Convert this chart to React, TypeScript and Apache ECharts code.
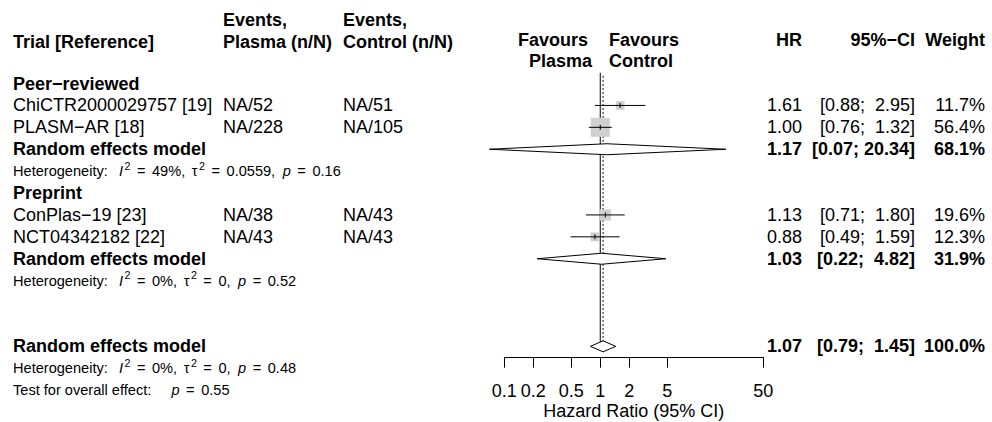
import React, { useEffect, useRef } from "react";
import * as echarts from "echarts";

// ---------- data ----------
const studyNames = ["ChiCTR2000029757 [19]", "PLASM−AR [18]", "ConPlas−19 [23]", "NCT04342182 [22]"];
const plasmaEvents = ["NA/52", "NA/228", "NA/38", "NA/43"];
const controlEvents = ["NA/51", "NA/105", "NA/43", "NA/43"];
const studyHR = [1.61, 1.0, 1.13, 0.88];
const studyLower = [0.88, 0.76, 0.71, 0.49];
const studyUpper = [2.95, 1.32, 1.8, 1.59];
const studyWeight = [11.7, 56.4, 19.6, 12.3];
const studyRows = [1, 2, 6, 7];

const groupNames = ["Peer−reviewed", "Preprint"];
const groupRows = [0, 5];

const pooledLabels = ["Random effects model", "Random effects model", "Random effects model"];
const pooledHR = [1.17, 1.03, 1.07];
const pooledLower = [0.07, 0.22, 0.79];
const pooledUpper = [20.34, 4.82, 1.45];
const pooledWeight = [68.1, 31.9, 100.0];
const pooledRows = [3, 8, 12];

const hetI2 = ["49%", "0%", "0%"];
const hetTau2 = ["0.0559", "0", "0"];
const hetP = ["0.16", "0.52", "0.48"];
const hetRows = [4, 9, 13];
const overallEffectP = "0.55";
const overallEffectRow = 14;

const tickValues = [0.1, 0.2, 0.5, 1, 2, 5, 50];
const axisMin = 0.1;
const axisMax = 50;
const nullValue = 1;
const overallValue = 1.07;

// ---------- styling ----------
const FAM = '"Liberation Sans", Arial, Helvetica, sans-serif';
const font = (size: number, bold = false, italic = false) =>
  `${italic ? "italic " : ""}${bold ? "bold " : ""}${size}px ${FAM}`;
const MAIN = 18;
const SMALL = 15; // rendered through a scale to 14.6px
const SMALL_SCALE = 14.6 / 15;
const SUP = 11;
const SUP_RAISE = 5.6;
const GAP_LABEL = 11;
const GAP_SUP = 1.5;
const GAP_EQ = 6.5;
const GAP_SEP = 6.5;
const GAP_P = 7.5;
const GAP_TEST = 20;
const X_NAME = 13;
const X_PLASMA = 223;
const X_CONTROL = 343;
const X_HR = 802;
const X_CI = 915;
const X_W = 985;
const SQUARE_K = 2.53;
const DIAMOND_HALF = 5.5;

const L = Math.log10;
const NB = "\u00a0";

function fmtCI(lo: number, hi: number) {
  return "[" + lo.toFixed(2) + "; " + (hi < 10 ? NB : "") + hi.toFixed(2) + "]";
}

function txt(x: number, y: number, text: string, f: string, align: string = "left") {
  return {
    type: "text",
    x,
    y,
    style: {
      legacy: false,
      text,
      font: f,
      fill: "#000",
      align,
      verticalAlign: "middle",
    },
  };
}

let measureCtx: CanvasRenderingContext2D | null = null;
function measure(text: string, f: string) {
  if (!measureCtx) measureCtx = document.createElement("canvas").getContext("2d");
  measureCtx!.font = f;
  return measureCtx!.measureText(text).width;
}

type Piece = { t: string; kind: "n" | "i" | "s"; gap?: number };
function pieces(x0: number, y: number, parts: Piece[]) {
  let x = 0;
  const children: any[] = [];
  for (const p of parts) {
    x += (p.gap || 0) / SMALL_SCALE;
    const f = p.kind === "s" ? font(SUP) : font(SMALL, false, p.kind === "i");
    children.push(txt(x, p.kind === "s" ? -SUP_RAISE / SMALL_SCALE : 0, p.t, f));
    x += measure(p.t, f);
  }
  return { type: "group", x: x0, y, scaleX: SMALL_SCALE, scaleY: SMALL_SCALE, children };
}

export default function App() {
  const ref = useRef<HTMLDivElement>(null);
  useEffect(() => {
    const chart = echarts.init(ref.current!, null, { renderer: "svg" });

    const labelFor = (v: number) => {
      let best = tickValues[0];
      for (const t of tickValues) if (Math.abs(L(t) - v) < Math.abs(L(best) - v)) best = t;
      return String(best);
    };

    const headers: any[] = [
      txt(X_NAME, 42, "Trial [Reference]", font(MAIN, true)),
      txt(X_PLASMA, 20, "Events,", font(MAIN, true)),
      txt(X_PLASMA, 42, "Plasma (n/N)", font(MAIN, true)),
      txt(X_CONTROL, 20, "Events,", font(MAIN, true)),
      txt(X_CONTROL, 42, "Control (n/N)", font(MAIN, true)),
      txt(518, 40, "Favours", font(MAIN, true)),
      txt(529, 61, "Plasma", font(MAIN, true)),
      txt(609, 40, "Favours", font(MAIN, true)),
      txt(609, 61, "Control", font(MAIN, true)),
      txt(X_HR, 40, "HR", font(MAIN, true), "right"),
      txt(X_CI, 40, "95%−CI", font(MAIN, true), "right"),
      txt(X_W, 40, "Weight", font(MAIN, true), "right"),
    ];

    const option: any = {
      animation: false,
      backgroundColor: "#fff",
      grid: {
        left: 504.3,
        right: 228.7,
        top: 70.4,
        bottom: 64.3,
        containLabel: false,
        outerBoundsMode: "none",
      },
      xAxis: {
        type: "value",
        position: "bottom",
        min: L(axisMin),
        max: L(axisMax),
        name: "Hazard Ratio (95% CI)",
        nameLocation: "middle",
        nameGap: 44,
        nameMoveOverlap: false,
        nameTextStyle: { fontSize: MAIN, fontFamily: FAM, color: "#000", lineHeight: 18 },
        axisLine: { show: true, onZero: false, lineStyle: { color: "#000", width: 1 } },
        axisTick: {
          show: true,
          length: 10,
          inside: false,
          customValues: tickValues.map((t) => L(t)),
          lineStyle: { color: "#000", width: 1 },
        },
        axisLabel: {
          show: true,
          margin: 24,
          customValues: tickValues.map((t) => L(t)),
          formatter: (v: number) => labelFor(v),
          fontSize: MAIN,
          fontFamily: FAM,
          color: "#000",
        },
        splitLine: { show: false },
      },
      yAxis: {
        type: "value",
        inverse: true,
        min: -0.6,
        max: 12.519,
        show: false,
      },
      graphic: headers,
      series: [
        {
          // reference lines
          type: "custom",
          name: "reference",
          coordinateSystem: "cartesian2d",
          clip: false,
          data: [
            [L(nullValue), -0.49, pooledRows[2], 0],
            [L(overallValue), -0.35, pooledRows[2], 1],
          ],
          encode: { x: 0, y: 1 },
          renderItem: (params: any, api: any) => {
            const top = api.coord([api.value(0), api.value(1)]);
            const bot = api.coord([api.value(0), api.value(2)]);
            const dotted = api.value(3) === 1;
            return {
              type: "line",
              shape: { x1: top[0], y1: top[1], x2: bot[0], y2: bot[1] },
              style: { stroke: "#000", lineWidth: 1, lineDash: dotted ? [2, 2] : null },
            };
          },
        },
        {
          // individual studies
          type: "custom",
          name: "studies",
          coordinateSystem: "cartesian2d",
          clip: false,
          data: studyHR.map((h, i) => [L(h), studyRows[i], L(studyLower[i]), L(studyUpper[i]), studyWeight[i], i]),
          encode: { x: 0, y: 1 },
          renderItem: (params: any, api: any) => {
            const i = api.value(5);
            const c = api.coord([api.value(0), api.value(1)]);
            const lo = api.coord([api.value(2), api.value(1)])[0];
            const hi = api.coord([api.value(3), api.value(1)])[0];
            const side = SQUARE_K * Math.sqrt(api.value(4));
            const y = c[1];
            return {
              type: "group",
              children: [
                {
                  type: "rect",
                  shape: { x: c[0] - side / 2, y: y - side / 2, width: side, height: side },
                  style: { fill: "#d0d0d0" },
                },
                {
                  type: "line",
                  shape: { x1: lo, y1: y, x2: hi, y2: y },
                  style: { stroke: "#000", lineWidth: 1 },
                },
                {
                  type: "line",
                  shape: { x1: c[0], y1: y - 2.5, x2: c[0], y2: y + 2.5 },
                  style: { stroke: "#000", lineWidth: 1 },
                },
                txt(X_NAME, y, studyNames[i], font(MAIN)),
                txt(X_PLASMA, y, plasmaEvents[i], font(MAIN)),
                txt(X_CONTROL, y, controlEvents[i], font(MAIN)),
                txt(X_HR, y, studyHR[i].toFixed(2), font(MAIN), "right"),
                txt(X_CI, y, fmtCI(studyLower[i], studyUpper[i]), font(MAIN), "right"),
                txt(X_W, y, studyWeight[i].toFixed(1) + "%", font(MAIN), "right"),
              ],
            };
          },
        },
        {
          // pooled estimates (diamonds)
          type: "custom",
          name: "pooled",
          coordinateSystem: "cartesian2d",
          clip: false,
          data: pooledHR.map((h, i) => [L(h), pooledRows[i], L(pooledLower[i]), L(pooledUpper[i]), i]),
          encode: { x: 0, y: 1 },
          renderItem: (params: any, api: any) => {
            const i = api.value(4);
            const c = api.coord([api.value(0), api.value(1)]);
            const lo = api.coord([api.value(2), api.value(1)])[0];
            const hi = api.coord([api.value(3), api.value(1)])[0];
            const y = c[1];
            return {
              type: "group",
              children: [
                {
                  type: "polygon",
                  shape: {
                    points: [
                      [lo, y],
                      [c[0], y - DIAMOND_HALF],
                      [hi, y],
                      [c[0], y + DIAMOND_HALF],
                    ],
                  },
                  style: { fill: "#fff", stroke: "#000", lineWidth: 1 },
                },
                txt(X_NAME, y, pooledLabels[i], font(MAIN, true)),
                txt(X_HR, y, pooledHR[i].toFixed(2), font(MAIN, true), "right"),
                txt(X_CI, y, fmtCI(pooledLower[i], pooledUpper[i]), font(MAIN, true), "right"),
                txt(X_W, y, pooledWeight[i].toFixed(1) + "%", font(MAIN, true), "right"),
              ],
            };
          },
        },
        {
          // group headings, heterogeneity and overall test texts
          type: "custom",
          name: "labels",
          coordinateSystem: "cartesian2d",
          clip: false,
          data: [
            ...groupRows.map((r, i) => [0, r, 0, i]),
            ...hetRows.map((r, i) => [0, r, 1, i]),
            [0, overallEffectRow, 2, 0],
          ],
          encode: { x: 0, y: 1 },
          renderItem: (params: any, api: any) => {
            const kind = api.value(2);
            const i = api.value(3);
            const y = api.coord([api.value(0), api.value(1)])[1];
            if (kind === 0) return txt(X_NAME, y, groupNames[i], font(MAIN, true));
            if (kind === 1)
              return pieces(X_NAME, y, [
                { t: "Heterogeneity:", kind: "n" },
                { t: "I", kind: "i", gap: GAP_LABEL },
                { t: "2", kind: "s", gap: GAP_SUP },
                { t: "=", kind: "n", gap: GAP_EQ },
                { t: `${hetI2[i]},`, kind: "n", gap: GAP_EQ },
                { t: "τ", kind: "n", gap: GAP_SEP },
                { t: "2", kind: "s", gap: GAP_SUP },
                { t: "=", kind: "n", gap: GAP_EQ },
                { t: `${hetTau2[i]},`, kind: "n", gap: GAP_EQ },
                { t: "p", kind: "i", gap: GAP_P },
                { t: "=", kind: "n", gap: GAP_EQ },
                { t: hetP[i], kind: "n", gap: GAP_EQ },
              ]);
            return pieces(X_NAME, y, [
              { t: "Test for overall effect:", kind: "n" },
              { t: "p", kind: "i", gap: GAP_TEST },
              { t: "=", kind: "n", gap: GAP_EQ },
              { t: overallEffectP, kind: "n", gap: GAP_EQ },
            ]);
          },
        },
      ],
    };

    chart.setOption(option);
    return () => chart.dispose();
  }, []);
  return (
    <div
      ref={ref}
      style={{ position: "fixed", left: 0, top: 0, width: 992, height: 422, background: "#fff" }}
    />
  );
}
